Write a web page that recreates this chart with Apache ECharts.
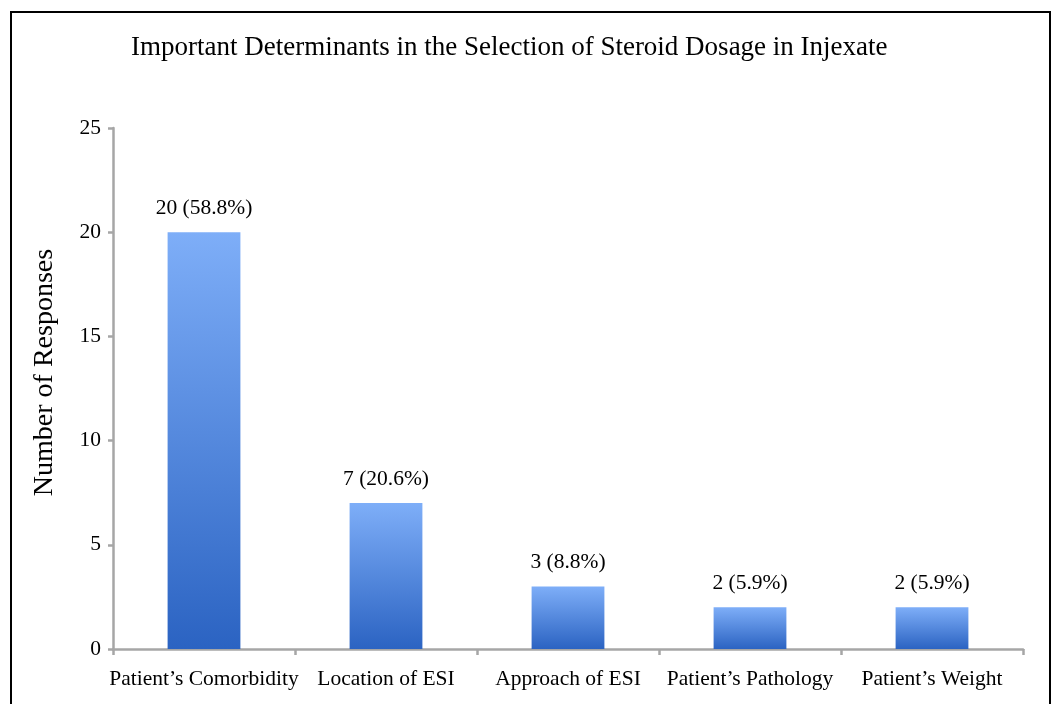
<!DOCTYPE html>
<html lang="en">
<head>
    <meta charset="UTF-8">
    <title>Steroid Dosage</title>
    <script src="https://cdn.jsdelivr.net/npm/echarts@6/dist/echarts.min.js"></script>
    <style>
        body { margin: 0; background: #fff; }
        #frame { position: absolute; left: 10px; top: 11px; width: 1041px; height: 720px; border: 2px solid #000; box-sizing: border-box; }
        #chart { position: absolute; left: 0; top: 0; width: 1057px; height: 704px; }
    </style>
</head>
<body>
<div id="frame"></div>
<div id="chart"></div>
<script>
    // data
    var categories = ["Patient\u2019s Comorbidity", "Location of ESI", "Approach of ESI", "Patient\u2019s Pathology", "Patient\u2019s Weight"];
    var counts = [20, 7, 3, 2, 2];
    var percents = ["58.8", "20.6", "8.8", "5.9", "5.9"];

    var font = "'Liberation Serif', 'Times New Roman', serif";
    var chart = echarts.init(document.getElementById("chart"));

    var option = {
        animation: false,
        title: {
            text: "Important Determinants in the Selection of Steroid Dosage in Injexate",
            left: 131,
            top: 34,
            padding: 0,
            textStyle: { fontFamily: font, fontSize: 27, fontWeight: 'normal', color: '#000' }
        },
        grid: { left: 113, right: 34, top: 128, bottom: 55 },
        xAxis: {
            type: 'category',
            data: categories,
            axisLine: { lineStyle: { color: '#a6a6a6', width: 2.5 } },
            axisTick: { show: true, interval: 0, length: 6, lineStyle: { color: '#a6a6a6', width: 2.5 } },
            axisLabel: { interval: 0, fontFamily: font, fontSize: 21.5, color: '#000', margin: 19 }
        },
        yAxis: {
            type: 'value',
            min: 0, max: 25, interval: 5,
            name: 'Number of Responses',
            nameLocation: 'middle',
            nameGap: 54,
            nameTextStyle: { fontFamily: font, fontSize: 28, color: '#000', padding: [0, 0, 0, 32] },
            axisLine: { show: true, lineStyle: { color: '#a6a6a6', width: 2.5 } },
            axisTick: { show: true, length: 5, lineStyle: { color: '#a6a6a6', width: 2.5 } },
            axisLabel: { fontFamily: font, fontSize: 21.5, color: '#000', margin: 12 },
            splitLine: { show: false }
        },
        series: [{
            type: 'bar',
            data: counts,
            barWidth: '40%',
            itemStyle: {
                color: new echarts.graphic.LinearGradient(0, 0, 0, 1, [
                    { offset: 0, color: '#7eaef8' },
                    { offset: 1, color: '#2b63c2' }
                ])
            },
            label: {
                show: true,
                position: 'top',
                distance: 13,
                fontFamily: font, fontSize: 21.5, color: '#000',
                formatter: function (p) { return p.value + ' (' + percents[p.dataIndex] + '%)'; }
            }
        }]
    };
    chart.setOption(option);
</script>
</body>
</html>
